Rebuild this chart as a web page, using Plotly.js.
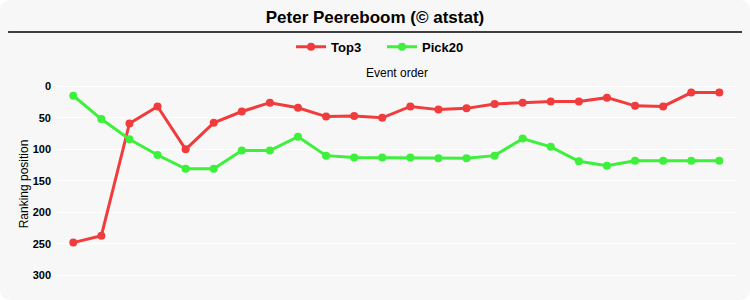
<!DOCTYPE html>
<html>
<head>
<meta charset="utf-8">
<script src="https://cdn.plot.ly/plotly-3.0.1.min.js"></script>
<style>
html,body{margin:0;padding:0;background:#ffffff;}
#chart{width:750px;height:300px;background:#f7f7f7;border-radius:10px;overflow:hidden;}
</style>
</head>
<body>
<div id="chart"></div>
<script>
const events = [1,2,3,4,5,6,7,8,9,10,11,12,13,14,15,16,17,18,19,20,21,22,23,24];
const top3 = [248,237,59,32,100,58,40,26,34,48,47,50,32,37,35,28,26,24,24,18,31,32,10,10];
const pick20 = [15,52,84,109,131,131,102,102,80,110,113,113,113,114,114,110,83,96,119,126,118,118,118,118];
const yTicks = [0,50,100,150,200,250,300];
const seriesNames = ["Top3","Pick20"];

const traces = [
  {x: events, y: top3, name: seriesNames[0], type: 'scatter', mode: 'lines+markers',
   line: {color: '#f03c3c', width: 3}, marker: {color: '#f03c3c', size: 8}},
  {x: events, y: pick20, name: seriesNames[1], type: 'scatter', mode: 'lines+markers',
   line: {color: '#3cf03c', width: 3}, marker: {color: '#3cf03c', size: 8}}
];

const layout = {
  width: 750, height: 300,
  paper_bgcolor: 'rgba(0,0,0,0)',
  plot_bgcolor: 'rgba(0,0,0,0)',
  margin: {l: 57, r: 13, t: 80, b: 12},
  font: {family: 'Arial, "Liberation Sans", sans-serif', color: '#000'},
  title: {text: '<b>Peter Peereboom (© atstat)</b>', font: {size: 17, color: '#000'},
          x: 0.5, xanchor: 'center', y: 0.943, yanchor: 'middle'},
  showlegend: true,
  legend: {orientation: 'h', x: 0.478, xanchor: 'center', y: 1.16, yanchor: 'middle',
           itemwidth: 30, entrywidth: 46, entrywidthmode: 'pixels',
           font: {size: 13, color: '#000', weight: 'bold'}, bgcolor: 'rgba(0,0,0,0)'},
  xaxis: {range: [0.42, 24.63], showticklabels: false, ticks: '',
          showgrid: false, zeroline: false, showline: false},
  yaxis: {range: [320, -10], tickvals: yTicks, ticktext: yTicks.map(v => '<b>' + v + '</b>'),
          tickfont: {size: 11, color: '#000'}, gridcolor: '#ffffff', gridwidth: 1,
          zeroline: false, showline: false, ticks: '', ticklabelstandoff: 5,
          title: {text: 'Ranking position', font: {size: 12, color: '#000'}, standoff: 1}},
  annotations: [{text: 'Event order', xref: 'paper', yref: 'paper', x: 0.5, y: 1.034,
                 xanchor: 'center', yanchor: 'middle', showarrow: false,
                 font: {size: 12, color: '#000'}}],
  shapes: [{type: 'line', xref: 'paper', yref: 'paper', x0: -0.072, x1: 1.0074,
            y0: 1.231, y1: 1.231, line: {color: '#000', width: 1.5}}]
};

Plotly.newPlot('chart', traces, layout, {displayModeBar: false, staticPlot: true});
</script>
</body>
</html>
